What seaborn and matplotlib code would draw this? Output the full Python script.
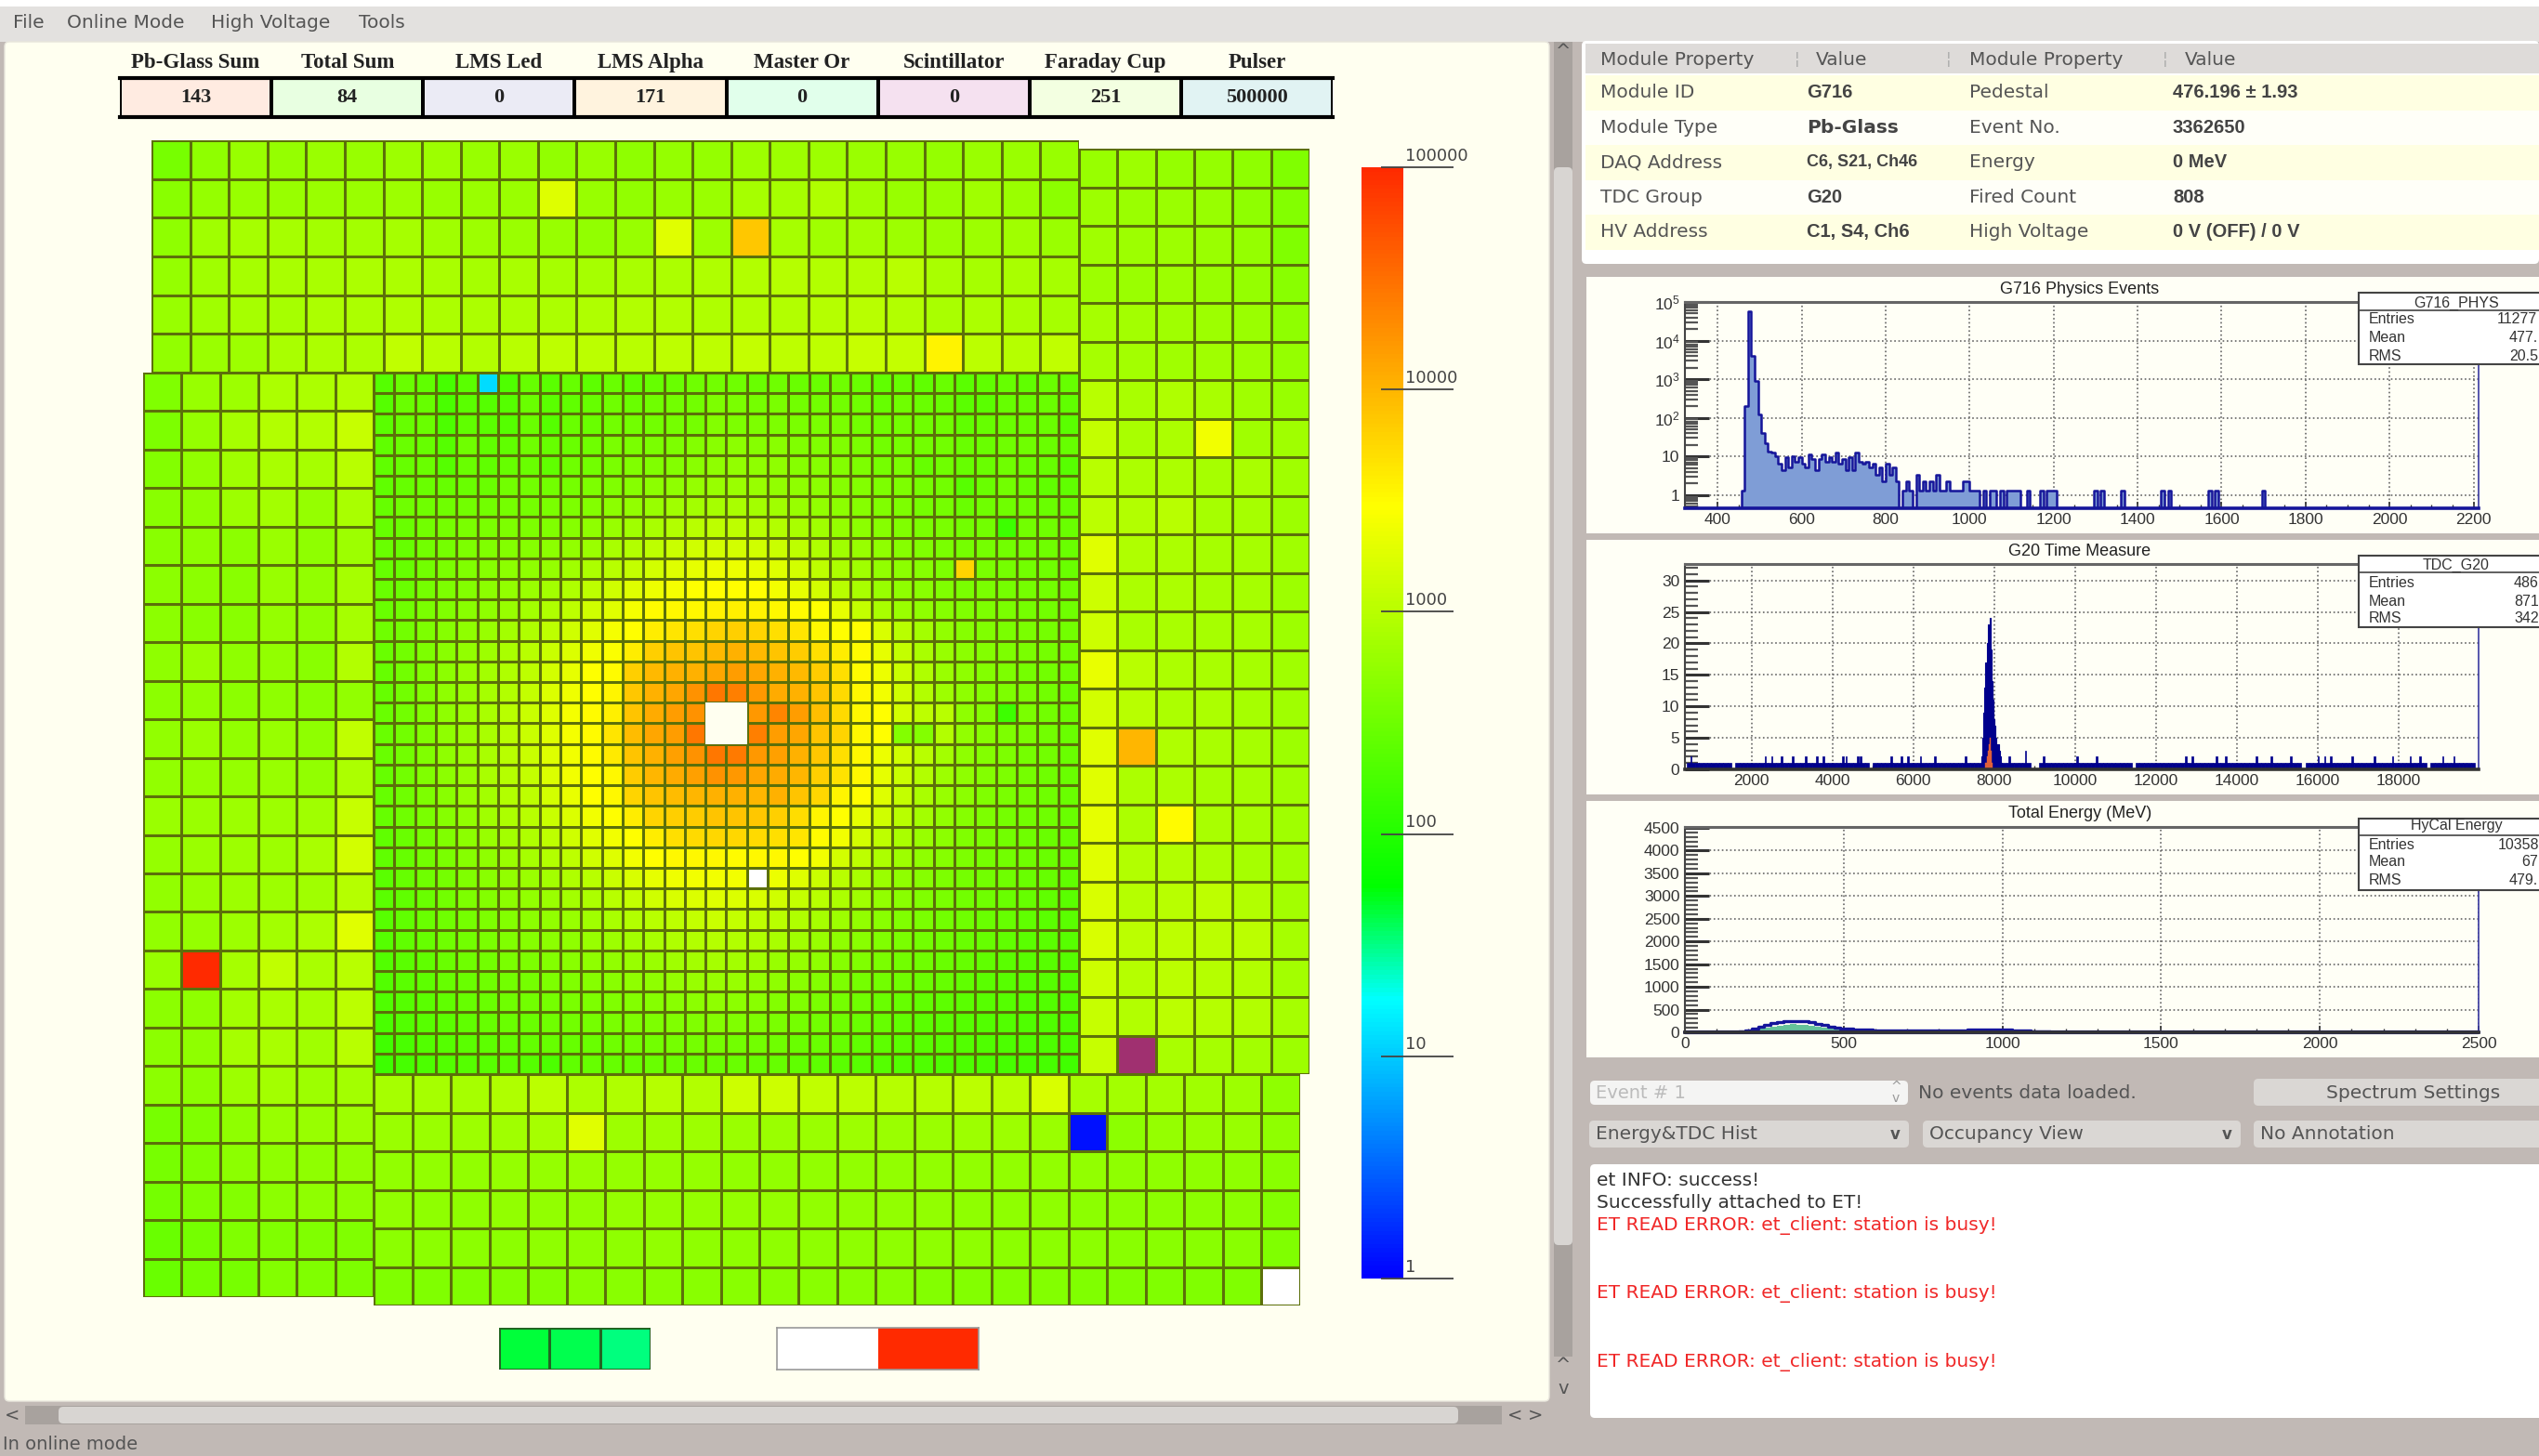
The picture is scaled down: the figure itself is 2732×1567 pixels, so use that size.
import numpy as np
import matplotlib
matplotlib.use("Agg")
import matplotlib.pyplot as plt
from matplotlib.colors import LinearSegmentedColormap, ListedColormap, LogNorm
from matplotlib.patches import Rectangle, FancyBboxPatch
from matplotlib.ticker import LogLocator, NullFormatter
import seaborn as sns

nan = float("nan")

status_names = ["Pb-Glass Sum", "Total Sum", "LMS Led", "LMS Alpha", "Master Or",
                "Scintillator", "Faraday Cup", "Pulser"]
status_values = ["143", "84", "0", "171", "0", "0", "251", "500000"]
status_colors = ["#FFEBE1", "#E8FFE1", "#EBEBF5", "#FFF3DE", "#E1FFEB", "#F5E1F0", "#F3FFE1", "#E1F3F3"]

prop_rows = [
    ("Module ID", "G716", "Pedestal", "476.196 ± 1.93"),
    ("Module Type", "Pb-Glass", "Event No.", "3362650"),
    ("DAQ Address", "C6, S21, Ch46", "Energy", "0 MeV"),
    ("TDC Group", "G20", "Fired Count", "808"),
    ("HV Address", "C1, S4, Ch6", "High Voltage", "0 V (OFF) / 0 V"),
]

# counts per module
top_block = [
    [300,430,480,460,500,480,520,520,480,500,440,480,420,460,460,520,520,520,500,480,460,500,500,480],
    [380,460,480,480,500,500,520,480,500,500,1400,480,440,480,500,600,620,700,560,480,480,560,500,400],
    [420,560,620,620,580,580,600,560,540,500,480,440,480,1500,520,6000,620,560,580,540,500,540,560,500],
    [460,560,620,640,640,680,660,640,620,640,620,620,640,680,700,720,760,720,720,780,640,600,640,600],
    [480,560,600,620,660,680,700,680,660,680,680,700,720,720,700,720,740,760,780,720,640,660,640,620],
    [440,500,540,640,660,660,920,800,740,800,880,820,800,860,860,960,880,860,1000,960,3000,820,760,900],
]
right_block = [
    [480,520,470,460,430,340], [520,500,500,480,420,360], [560,520,540,500,460,340], [540,500,520,480,460,380],
    [600,580,560,540,500,420], [620,580,560,560,520,460], [780,640,700,640,560,480], [950,640,660,2000,560,560],
    [800,680,680,600,640,560], [820,720,800,620,620,540], [1500,700,680,600,620,560], [1100,680,660,620,620,540],
    [1100,640,640,620,600,520], [1700,780,680,640,600,560], [1200,800,680,660,620,560], [1500,8000,700,640,600,540],
    [1500,680,660,620,600,560], [1600,680,2600,640,620,560], [1500,740,720,660,620,560], [1300,760,800,860,720,580],
    [1300,820,860,820,840,600], [1100,760,820,760,740,580], [1000,740,820,760,720,600], [1000,nan,640,620,580,520],
]
left_block = [
    [340,480,520,660,680,720], [320,460,600,720,720,1000], [350,440,560,640,600,780], [380,430,520,580,460,640],
    [380,430,400,500,420,540], [400,400,380,480,440,600], [400,380,380,460,420,620], [420,500,420,440,380,720],
    [400,440,400,420,380,440], [440,500,440,480,420,900], [440,460,460,480,440,660], [500,500,520,540,560,1000],
    [460,500,520,540,640,1200], [440,480,520,540,560,760], [440,460,540,580,660,1500], [480,90000,600,920,640,780],
    [400,420,580,640,600,820], [400,420,600,640,560,800], [400,400,540,580,520,580], [300,340,420,480,480,540],
    [300,340,400,420,420,440], [280,340,360,400,420,420], [240,280,340,340,340,340], [240,280,300,360,340,320],
]
bottom_block = [
    [620,620,620,700,820,680,700,760,720,1100,1100,900,820,760,760,840,800,1300,620,580,580,560,540,420],
    [500,500,520,560,600,1500,540,520,520,500,500,500,520,500,500,520,540,500,1,400,460,480,480,420],
    [440,440,440,460,460,480,460,460,460,440,440,440,440,440,440,440,440,440,440,420,420,420,420,380],
    [440,420,420,440,440,440,460,460,460,460,460,440,440,440,440,420,420,420,400,400,400,400,400,360],
    [400,400,400,400,420,420,420,440,420,420,420,420,420,420,420,420,400,400,400,380,380,380,380,340],
    [340,340,340,360,360,380,380,380,380,380,380,380,380,380,360,360,360,360,340,340,340,340,340,nan],
]
center_block = [
    [220,300,260,170,240,12,200,280,240,280,250,300,260,280,300,320,340,320,300,330,300,300,320,300,260,280,260,300,240,260,280,260,300,280],
    [220,300,280,180,240,220,220,300,240,260,280,320,300,320,340,340,400,380,360,380,340,340,340,320,280,320,300,280,240,240,280,280,300,260],
    [240,280,300,190,260,240,220,300,220,300,300,340,340,340,360,360,440,400,400,400,380,380,380,340,320,340,320,320,260,280,300,300,300,240],
    [260,300,280,220,320,260,260,320,280,300,320,380,380,380,400,440,480,500,460,480,420,420,420,380,340,360,340,340,300,300,320,320,300,280],
    [260,280,300,220,300,260,280,300,260,320,340,380,420,420,440,480,520,560,540,520,460,460,440,400,360,380,280,320,280,300,320,300,280,230],
    [260,280,300,280,300,300,340,340,340,360,400,420,460,500,540,580,600,640,600,560,540,500,460,440,400,400,360,340,230,300,340,300,260,260],
    [280,320,320,320,340,340,360,360,380,400,440,500,560,620,680,720,760,780,740,680,620,560,500,460,420,400,360,360,300,320,320,320,300,280],
    [280,300,340,360,380,380,400,400,420,460,520,600,700,800,900,1000,1100,1100,1000,900,800,680,580,500,460,420,380,380,340,340,150,340,320,300],
    [300,280,340,360,400,420,440,460,500,560,640,780,900,1100,1300,1400,1500,1500,1400,1300,1100,880,700,600,520,460,420,380,360,360,340,340,320,300],
    [280,280,340,380,420,460,500,540,580,680,820,1000,1200,1500,1800,2000,2200,2200,2000,1800,1500,1100,820,680,560,500,460,400,6000,380,360,340,320,300],
    [300,300,360,400,440,500,560,640,720,860,1100,1400,1800,2200,2600,2900,3100,3100,3000,2500,2000,1500,1000,780,620,520,480,420,380,380,360,360,340,320],
    [300,320,380,420,480,540,620,740,880,1100,1400,1900,2600,3200,3400,3400,3600,3800,3600,3400,3200,2900,2000,1200,800,640,520,460,420,400,380,360,340,320],
    [320,340,400,460,520,600,720,860,1100,1400,1900,2600,3000,4000,4500,5000,6000,6500,6000,5000,4500,3400,3000,3000,1600,1000,720,560,460,420,380,380,360,340],
    [300,340,400,480,560,660,800,1000,1300,1700,2300,2800,4000,6500,8000,8000,9500,11000,9500,8000,7000,5000,4000,3200,2000,1200,800,620,500,440,400,380,360,340],
    [280,340,420,500,600,720,880,1100,1500,2000,2900,3200,6500,9500,11000,11000,13000,15000,13000,11000,9500,7000,5000,3200,2200,1300,880,640,520,440,400,360,340,320],
    [280,340,420,520,620,760,920,1200,1700,2300,3100,3500,7500,11000,13000,18000,28000,24000,16000,12000,11000,8000,5500,3400,2500,1400,900,660,520,440,400,380,340,300],
    [300,340,420,520,640,780,980,1300,1800,2600,3200,3800,8000,12000,15000,18000,nan,nan,16000,22000,15000,8500,5500,3400,3000,1500,1100,1000,520,440,150,380,340,300],
    [300,340,420,520,640,800,1000,1300,1800,2600,3200,4500,9000,13000,15000,28000,nan,nan,24000,15000,13000,8000,6000,3300,3000,440,440,900,560,460,400,380,340,300],
    [300,340,420,520,640,800,1000,1300,1800,2500,3200,4200,8000,11000,14000,18000,28000,26000,16000,14000,11000,7500,5000,3300,2200,1400,1000,720,540,440,400,360,340,300],
    [280,340,420,500,620,780,960,1200,1700,2400,3100,3400,7000,10000,12000,14000,18000,16000,13000,12000,10000,6500,4800,3300,2000,1300,900,660,520,440,400,360,320,300],
    [280,320,400,480,600,740,900,1100,1500,2100,3000,3300,6000,8000,9000,10000,11000,11000,10000,11000,8000,5800,3500,3100,1800,1200,800,600,500,420,380,360,320,300],
    [280,320,380,460,560,680,820,1000,1300,1700,2400,3100,4000,6000,6500,7000,8000,8000,7500,6500,5200,3500,3100,2000,1400,1000,720,560,460,400,360,340,320,300],
    [260,300,360,420,500,600,720,860,1100,1400,1900,2400,3000,4000,5000,5500,5800,5800,5500,5000,4500,3200,2400,1500,1100,800,620,500,420,380,340,320,300,280],
    [260,280,340,380,460,540,640,760,900,1100,1400,1800,2400,3100,3300,3400,3300,3200,3300,3400,3100,2500,1500,1100,820,660,540,460,400,360,340,320,300,280],
    [240,280,320,360,420,480,560,640,740,860,1000,1300,1600,2000,2300,2400,2500,2400,nan,2200,1800,1300,1000,800,640,540,460,400,360,340,320,300,280,260],
    [240,260,300,340,400,440,500,560,640,720,840,1000,1200,1400,1600,1700,1800,1700,1600,1400,1200,1000,840,680,560,480,420,380,340,320,300,280,260,240],
    [230,260,300,320,360,400,440,500,560,620,700,780,900,1000,1100,1200,1300,1200,1100,1000,880,760,660,560,480,420,380,340,320,300,280,260,240,240],
    [220,260,280,320,340,380,420,460,500,540,600,660,720,780,860,900,960,900,860,780,700,620,540,480,420,380,340,320,300,280,260,240,240,230],
    [210,240,260,300,320,340,380,400,440,480,520,560,600,640,700,720,760,720,680,620,580,520,460,420,380,340,320,300,280,260,240,230,230,220],
    [210,240,250,280,300,320,340,360,400,420,460,480,520,540,580,600,620,600,560,520,480,440,400,360,340,320,300,280,260,240,230,220,220,210],
    [200,220,240,260,280,300,320,340,360,380,400,420,440,460,480,500,520,500,480,440,420,380,360,320,300,280,260,250,240,230,220,210,210,200],
    [180,210,230,240,260,280,300,300,320,340,360,380,400,400,420,420,440,420,400,380,360,340,320,300,280,260,240,230,220,210,210,200,200,190],
    [160,180,210,220,240,250,260,270,280,280,300,320,340,340,360,360,360,340,340,320,300,300,280,260,250,240,230,220,210,200,190,190,190,180],
    [150,170,190,210,220,230,240,220,190,260,280,280,280,300,300,300,300,300,280,280,260,250,240,230,220,210,200,190,190,180,170,170,170,160],
]
green_refs = [[44, 40, 32]]
red_refs = [[nan, 100000]]
cbar_ticks = [1, 10, 100, 1000, 10000, 100000]

# G716 spectrum (bin centre, entries), empty bins left out
phys_x = [460,468,476,484,492,500,508,516,524,532,540,548,556,564,572,580,588,596,604,612,620,628,636,644,652,660,668,676,684,692,
          700,708,716,724,732,740,748,756,764,772,780,788,796,804,812,820,828,844,852,860,876,884,892,900,908,916,924,932,940,948,
          956,964,972,980,988,996,1004,1012,1020,1036,1052,1060,1076,1092,1100,1108,1116,1140,1172,1188,1196,1204,1300,1316,1364,1460,1476,1572,1588,1700]
phys_n = [1,200,56000,4000,900,120,40,22,13,12,10,6,4,9,5,10,7,9,6,5,11,8,4,8,11,7,9,7,12,6,
          8,4,9,4,12,7,6,7,5,6,3,5,2,6,3,5,2,1,2,1,3,1,2,1,2,1,3,1,1,2,
          1,1,1,1,2,2,1,1,1,1,1,1,1,1,1,1,1,1,1,1,1,1,1,1,1,1,1,1,1,1]

# G20 TDC, 100 wide bins from 0 to 20000, one row per 1000
tdc_n = [0,0,0,0,1,1,1,1,1,1,
         1,1,1,1,1,0,1,1,1,1,
         1,1,1,1,1,1,1,1,1,1,
         1,1,1,1,1,1,1,1,1,1,
         1,1,1,1,1,1,1,1,1,0,
         1,1,1,1,1,1,1,1,1,1,
         1,1,1,1,1,1,1,1,1,1,
         1,1,1,1,1,1,1,1,1,1,
         1,1,1,1,1,1,1,1,1,0,
         0,1,1,1,1,1,1,1,1,1,
         1,1,1,1,1,1,1,1,1,1,
         1,1,1,1,0,1,1,1,1,1,
         1,1,1,1,1,1,1,1,1,1,
         1,1,1,1,1,1,1,1,1,1,
         1,1,1,1,1,1,1,1,1,1,
         1,1,1,1,1,1,0,1,1,1,
         1,1,1,1,1,1,1,1,1,1,
         1,1,1,1,1,1,1,1,1,1,
         1,1,1,1,1,1,1,0,1,1,
         1,1,1,1,1,1,1,1,1,0]
spike_x = [500,2336,2490,2720,3020,3330,3600,3790,4250,4320,4630,4700,5470,5700,5850,6160,6540,7300,8375,8760,9220,10060,10520,
           12730,12890,13500,13730,14490,14870,15330,16020,16170,16330,16860,17400,17850,18310,18540,19080,19380]
spike_n = [2,2,2,2,2,2,2,2,2,2,2,2,2,2,2,2,2,2,2,3,2,2,2,
           2,2,2,2,2,2,2,2,2,2,2,2,2,2,2,2,2]
peak_x = [7700,7725,7750,7775,7800,7825,7850,7875,7900,7925,7950,7975,8000,8025,8050,8075,8100,8125,8150,8175]
peak_n = [2,5,9,13,17,20,23,20,24,19,14,11,8,7,5,4,4,3,2,1]
sel_x = [7800,7825,7850,7875,7900,7925,7950]
sel_n = [1,2,3,4,5,3,1]

# total energy
en_x = [160,180,200,220,240,260,280,300,320,340,360,380,400,420,440,460,480,500,520,540,560,580,600,620,640,660,680,700,720,740,
        760,780,800,820,840,860,880,900,920,940,960,980,1000,1020,1040,1060,1080,1100,1120,1140,1160]
en_all = [5,20,50,90,130,170,200,225,240,250,245,240,220,190,160,130,110,90,80,70,60,55,50,45,40,40,40,40,40,40,
          40,40,40,40,45,50,50,55,60,70,65,60,60,55,50,45,40,30,20,15,5]
en_sel = [0,5,20,50,80,110,130,150,165,175,170,160,140,120,100,80,60,50,40,30,25,20,15,12,10,10,10,10,10,10,
          10,10,10,10,10,12,12,14,16,20,18,16,14,12,10,8,6,4,0,0,0]

W, H = 2732, 1567
BG = "#C1B9B5"
CREAM = "#FFFFF0"
PANEL = "#FFFFF6"
GREY_TXT = "#555555"
NAVY = "#15159A"
LINE = "#5C700A"
LINE_INNER = "#4F5F0A"
OUTER_GAIN = 1.25  # my first reading of the outer modules came out too green

sns.set_theme(style="white")
plt.rcParams["font.family"] = ["DejaVu Sans"]
plt.rcParams["mathtext.default"] = "regular"
SERIF = ["Liberation Serif"]
ROOT = ["Liberation Sans"]

fig = plt.figure(figsize=(W / 100, H / 100), dpi=100, facecolor=BG)


def ax_px(x0, y0, x1, y1, zorder=2):
    return fig.add_axes([x0 / W, 1 - y1 / H, (x1 - x0) / W, (y1 - y0) / H], zorder=zorder)


def overlay(zorder):
    a = ax_px(0, 0, W, H, zorder)
    a.set_xlim(0, W)
    a.set_ylim(H, 0)
    a.axis("off")
    a.patch.set_alpha(0)
    return a


chrome = overlay(0)
over = overlay(5)


def box(x0, y0, x1, y1, fc, ec="none", lw=0, ax=chrome, rounded=False):
    if rounded:
        p = FancyBboxPatch((x0, y0), x1 - x0, y1 - y0, boxstyle="round,pad=0,rounding_size=5",
                           fc=fc, ec=ec, lw=lw)
    else:
        p = Rectangle((x0, y0), x1 - x0, y1 - y0, fc=fc, ec=ec, lw=lw)
    ax.add_patch(p)


def label(x, y, s, ax=chrome, size=14, color=GREY_TXT, ha="left", **kw):
    ax.text(x, y, s, fontsize=size, color=color, ha=ha, va="center", **kw)


# window chrome
box(0, 0, W, 7, "white")
box(0, 7, W, 45, "#E3E1DF")
for x, s in [(14, "File"), (72, "Online Mode"), (227, "High Voltage"), (386, "Tools")]:
    label(x, 25, s, size=14.5)
box(5, 45, 1667, 1508, CREAM, ec="#E8E6DC", lw=1, rounded=True)
label(3, 1555, "In online mode", size=14)
# scrollbars
box(1672, 45, 1692, 1460, "#A8A29E")
box(1672, 180, 1692, 1340, "#D8D5D2", rounded=True)
label(1682, 55, "^", ha="center", size=14)
label(1682, 1470, "^", ha="center", size=14)
label(1682, 1495, "v", ha="center", size=14)
box(27, 1513, 1616, 1533, "#A8A29E")
box(63, 1514, 1569, 1532, "#D8D5D2", rounded=True)
label(13, 1523, "<", ha="center", size=14)
label(1630, 1523, "<", ha="center", size=14)
label(1652, 1523, ">", ha="center", size=14)

# property table
box(1702, 44, W, 284, "white", rounded=True)
box(1706, 47, W, 79, "#DEDBD9")
for i, (a, b, c, d) in enumerate(prop_rows):
    y0, y1 = 81 + i * 37.5, 81 + (i + 1) * 37.5
    box(1706, y0, W, y1, "#FFFFE2" if i % 2 == 0 else "#FFFFF8")
    yc = (y0 + y1) / 2
    label(1722, yc, a, size=14.5)
    if b == "Pb-Glass":
        label(1944, yc, b, size=14.5, weight="bold", color="#444444")
    else:
        label(1944, yc, b, size=13 if len(b) > 12 else 14.5, weight="bold", color="#444444", family=ROOT)
    label(2119, yc, c, size=14.5)
    label(2338, yc, d, size=14.5, weight="bold", color="#444444", family=ROOT)
for x, s in [(1722, "Module Property"), (1954, "Value"), (2119, "Module Property"), (2351, "Value")]:
    label(x, 64, s, size=14.5)
for x in [1934, 2097, 2330]:
    label(x, 64, "¦", size=12, color="#AAAAAA", ha="center")

# controls under the histograms
box(1711, 1163, 2053, 1189, "#F4F4F3", rounded=True)
label(1717, 1176, "Event # 1", color="#BBBBBB", size=14)
label(2040, 1170, "^", color="#999999", size=10, ha="center")
label(2040, 1182, "v", color="#999999", size=10, ha="center")
label(2064, 1176, "No events data loaded.", size=14.5)
box(2425, 1161, W + 10, 1190, "#DAD7D4", rounded=True)
label(2597, 1176, "Spectrum Settings", ha="center", size=14.5)
for x0, x1, s in [(1710, 2054, "Energy&TDC Hist"), (2069, 2411, "Occupancy View"), (2425, W + 10, "No Annotation")]:
    box(x0, 1206, x1, 1235, "#DAD7D4", rounded=True)
    label(x0 + 7, 1220, s, size=14.5)
    if x1 < W:
        label(x1 - 15, 1221, "v", ha="center", size=12, weight="bold")
box(1711, 1253, W + 10, 1526, "white", rounded=True)
label(1718, 1271, "et INFO: success!", size=14.5, color="#333333")
label(1718, 1295, "Successfully attached to ET!", size=14.5, color="#333333")
for y in [1319, 1392, 1466]:
    label(1718, y, "ET READ ERROR: et_client: station is busy!", size=14.5, color="#F02828")

# occupancy map
stops = [(0, "#0000FF"), (0.25, "#00FFFF"), (0.353, "#00FF00"), (0.696, "#FFFF00"), (1, "#FF2A00")]
hycal_cmap = LinearSegmentedColormap.from_list("hycal", stops)
norm = LogNorm(vmin=1, vmax=100000)


def block(values, rect, face="white"):
    a = ax_px(*rect)
    a.set_facecolor(face)
    sns.heatmap(np.array(values, dtype=float) * OUTER_GAIN, ax=a, cmap=hycal_cmap, norm=norm, linewidths=0.8,
                linecolor=LINE, cbar=False, xticklabels=False, yticklabels=False)
    return a


def mark_cells(a, values, cells, color, lw=0.8):
    cell = np.full(np.array(values, dtype=float).shape, nan)
    for row, col in cells:
        cell[row, col] = 1
    sns.heatmap(cell, ax=a, cmap=ListedColormap([color]), linewidths=lw, linecolor=color if lw == 0 else LINE,
                cbar=False, xticklabels=False, yticklabels=False)


block(top_block, (163, 151, 1161, 401))
right_ax = block(right_block, (1161, 160, 1409, 1156))
mark_cells(right_ax, right_block, [(23, 1)], "#A03070")
block(left_block, (154, 401, 402, 1396))
block(bottom_block, (402, 1156, 1399, 1405))

center_ax = ax_px(402, 401, 1161, 1156)
center_ax.set_facecolor(CREAM)
cax = ax_px(1465, 180, 1510, 1376)
sns.heatmap(np.array(center_block, dtype=float), ax=center_ax, cmap=hycal_cmap, norm=norm, linewidths=0.8,
            linecolor=LINE_INNER, cbar=True, cbar_ax=cax, xticklabels=False, yticklabels=False)
cb = center_ax.collections[0].colorbar
mark_cells(center_ax, center_block, [(24, 18)], "white")
mark_cells(center_ax, center_block, [(16, 16), (16, 17), (17, 16), (17, 17)], CREAM, lw=0)

# colour scale
cb.outline.set_visible(False)
cb.set_ticks([])
cax.minorticks_off()
cax.tick_params(which="both", length=0, labelright=False)
cax.hlines(cbar_ticks, 0.47, 2.2, color="#444444", lw=1.3, clip_on=False, transform=cax.get_yaxis_transform())
for v in cbar_ticks:
    cax.annotate(str(v), (1.05, v), xycoords=cax.get_yaxis_transform(), xytext=(0, 2.5), textcoords="offset points",
                 fontsize=13, color="#444444", ha="left", va="bottom", annotation_clip=False)

# status table
status_ax = ax_px(129, 84, 1434, 126)
sns.heatmap(np.arange(len(status_names)).reshape(1, -1), ax=status_ax, cmap=ListedColormap(status_colors),
            annot=np.array([status_values]), fmt="", cbar=False, linewidths=1.6, linecolor="black",
            xticklabels=status_names, yticklabels=False,
            annot_kws=dict(family=SERIF, weight="bold", fontsize=16, color="#222222"))
status_ax.xaxis.tick_top()
status_ax.tick_params(axis="x", length=0, pad=4, labelrotation=0)
for t in status_ax.get_xticklabels():
    t.set(family=SERIF, weight="bold", fontsize=16.5, color="#222222")
for s in ["top", "bottom"]:
    status_ax.spines[s].set_visible(True)
    status_ax.spines[s].set(color="black", linewidth=3)

# reference swatches
sns.heatmap(np.array(green_refs, dtype=float), ax=ax_px(537, 1429, 700, 1474), cmap=hycal_cmap, norm=norm,
            linewidths=0.8, linecolor="#226622", cbar=False, xticklabels=False, yticklabels=False)
red_ax = ax_px(836, 1429, 1053, 1474)
red_ax.set_facecolor("white")
sns.heatmap(np.array(red_refs, dtype=float), ax=red_ax, cmap=hycal_cmap, norm=norm, cbar=False,
            xticklabels=False, yticklabels=False)
for s in red_ax.spines.values():
    s.set_visible(True)
    s.set(color="#999999", linewidth=1.2)

# histogram panels
for y0, y1 in [(298, 574), (581, 855), (862, 1138)]:
    box(1707, y0, W, y1, PANEL)


def style_hist(a, xlim, ylim, xticks, yticks, ylabels, xminor=None, yminor=None, bottom="#333333"):
    a.set_facecolor(PANEL)
    a.set(xlim=xlim, ylim=ylim, xlabel="", ylabel="")
    a.set_xticks(xticks, [str(v) for v in xticks])
    a.set_yticks(yticks, ylabels)
    if xminor is not None:
        a.set_xticks(xminor, minor=True)
    if yminor is not None:
        a.set_yticks(yminor, minor=True)
    a.yaxis.set_minor_formatter(NullFormatter())
    a.tick_params(axis="y", which="major", direction="in", length=19, width=2.2, color="#333333", left=True,
                  pad=4, labelsize=12.5, labelcolor="#333333")
    a.tick_params(axis="y", which="minor", direction="in", length=10, width=1.6, color="#555555", left=True)
    a.tick_params(axis="x", which="major", direction="in", length=5, width=1.2, color="#333333", bottom=True,
                  pad=3.5, labelsize=12.5, labelcolor="#333333")
    a.tick_params(axis="x", which="minor", direction="in", length=3, width=1, color="#333333", bottom=True)
    for t in a.get_xticklabels() + a.get_yticklabels():
        t.set_family(ROOT)
    a.grid(True, which="major", ls=":", color="#666666", lw=1.2)
    a.set_axisbelow(True)
    a.spines["left"].set(visible=True, color="#444444", linewidth=1.5)
    a.spines["top"].set(visible=True, color="#666666", linewidth=2.2)
    a.spines["right"].set(visible=True, color="#3A3AA0", linewidth=1.2)
    a.spines["bottom"].set(visible=True, color=bottom, linewidth=2.6)


# physics events spectrum, log counts. Empty bins get a floor under the axis so the
# step drops to the bottom line and the fill stays closed on the log scale
phys_edges = list(range(320, 2217, 8))
floor_x = [e + 4 for e in phys_edges[:-1]]
phys_ax = ax_px(1813, 325, 2667, 547)
sns.histplot(x=phys_x + floor_x, weights=phys_n + [0.3] * len(floor_x), bins=phys_edges, element="step", fill=True,
             color="#7F9DD6", alpha=1, edgecolor=NAVY, linewidth=1.8, log_scale=(False, True), ax=phys_ax)
style_hist(phys_ax, (322, 2212), (0.45, 100000), list(range(400, 2201, 200)), [1, 10, 100, 1000, 10000, 100000],
           ["1", "10", "$10^2$", "$10^3$", "$10^4$", "$10^5$"], xminor=list(range(350, 2201, 50)), bottom=NAVY)
phys_ax.yaxis.set_minor_locator(LogLocator(base=10, subs=np.arange(2, 10) / 1.0, numticks=12))
phys_ax.yaxis.set_minor_formatter(NullFormatter())

# tdc spectrum
tdc_ax = ax_px(1813, 607, 2667, 828)
sns.histplot(x=list(range(50, 20000, 100)), weights=tdc_n, bins=list(range(0, 20001, 100)), element="bars", fill=True,
             color="#00008C", alpha=1, edgecolor="#00008C", linewidth=0.5, ax=tdc_ax)
sns.histplot(x=spike_x, weights=spike_n, bins=list(range(0, 20001, 40)), element="bars", fill=True,
             color="#00008C", alpha=1, edgecolor="#00008C", linewidth=0.5, ax=tdc_ax)
sns.histplot(x=peak_x, weights=peak_n, bins=list(np.arange(7687.5, 8200, 25)), element="bars", fill=True, color="#00008C",
             alpha=1, edgecolor="#00008C", linewidth=0.8, ax=tdc_ax)
sns.histplot(x=sel_x, weights=sel_n, bins=list(np.arange(7787.5, 7975, 25)), element="bars", fill=True, color="#E0603A",
             alpha=1, edgecolor="#E0603A", linewidth=0.3, ax=tdc_ax)
style_hist(tdc_ax, (349, 19988), (0, 32.6), list(range(2000, 18001, 2000)), [0, 5, 10, 15, 20, 25, 30],
           ["0", "5", "10", "15", "20", "25", "30"], xminor=list(range(1000, 20000, 1000)), yminor=list(range(0, 33)))

# total energy
en_ax = ax_px(1813, 890, 2667, 1111)
sns.histplot(x=en_x, weights=en_sel, bins=list(range(150, 1171, 20)), element="step", fill=True, color="#66C39A",
             alpha=1, linewidth=0, ax=en_ax)
sns.histplot(x=en_x, weights=en_all, bins=list(range(150, 1171, 20)), element="step", fill=False, color=NAVY,
             linewidth=2.4, ax=en_ax)
en_ax.axhline(0, color=NAVY, lw=3, clip_on=False)
style_hist(en_ax, (0, 2500), (0, 4520), [0, 500, 1000, 1500, 2000, 2500], list(range(0, 4501, 500)),
           [str(v) for v in range(0, 4501, 500)], xminor=list(range(0, 2501, 100)), yminor=list(range(0, 4501, 100)),
           bottom="#333333")

hist_titles = [(311, "G716 Physics Events"), (593, "G20 Time Measure"), (876, "Total Energy (MeV)")]
for y, s in hist_titles:
    label(2238, y, s, ax=over, size=13, color="#222222", ha="center", family=ROOT)

stats = [
    (315, 392, 334, 326, "G716_PHYS", [(344, "Entries", 2687, "11277"), (364, "Mean", 2700, "477."), (383, "RMS", 2700, "20.5")]),
    (598, 675, 616, 608, "TDC_G20", [(627, "Entries", 2705, "486"), (647, "Mean", 2705, "871"), (666, "RMS", 2705, "342")]),
    (881, 958, 899, 889, "HyCal Energy", [(909, "Entries", 2688, "10358"), (928, "Mean", 2713, "67"), (948, "RMS", 2700, "479.")]),
]
for y0, y1, ym, yt, name, rows in stats:
    box(2538, y0, W + 10, y1, "white", ec="#444444", lw=1.5, ax=over)
    over.plot([2538, W], [ym, ym], color="#444444", lw=1.2)
    label(2643, yt, name, ax=over, size=11.5, color="#333333", ha="center", family=ROOT)
    for y, k, vx, v in rows:
        label(2549, y, k, ax=over, size=11.5, color="#333333", family=ROOT)
        label(vx, y, v, ax=over, size=11.5, color="#333333", family=ROOT)
over.set_xlim(0, W)
over.set_ylim(H, 0)

fig.savefig("out.png", dpi=100, facecolor=BG)
